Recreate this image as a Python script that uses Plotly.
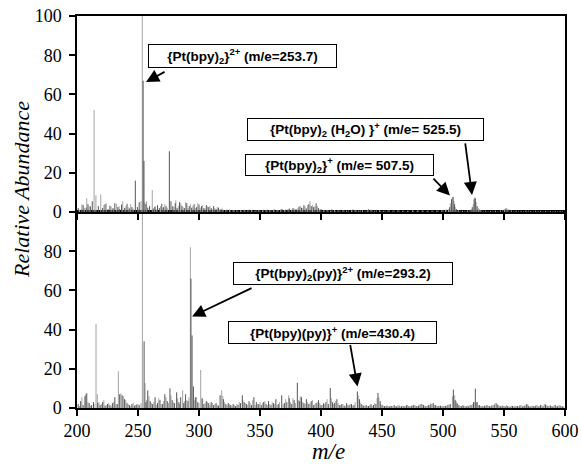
import plotly.graph_objects as go

# ---------------- data: (m/e, relative abundance) ----------------
top_dark = [
    (201, 2.0), (203.5, 1.2), (205, 3.5), (207.5, 2.2), (209, 4.0), (211, 2.8), (212.5, 5.5),
    (217.5, 3.0), (221, 2.0), (223, 4.0), (225.5, 1.5), (227, 3.2), (229.5, 2.0), (231, 4.5),
    (233.5, 2.5), (235, 1.5), (236.5, 3.8), (239, 2.0), (241, 4.2), (243, 1.8), (245, 2.5),
    (247.8, 16), (249.5, 2.5), (251, 5.0), (254.2, 67), (254.9, 26), (256.5, 4.0), (258, 2.2),
    (259.5, 3.0), (262.5, 1.8), (264, 2.8), (266, 3.5), (267.5, 2.0), (269.5, 4.2), (271, 2.5),
    (273, 3.0), (275.7, 31), (277, 5.5), (278.5, 3.0), (280.5, 4.5), (282, 2.0), (284, 5.0),
    (286, 3.2), (288, 2.0), (290, 4.5), (292, 3.0), (294, 2.2), (296, 4.0), (298, 2.5),
    (300, 3.8), (302, 3.0), (304, 2.0), (306, 3.5), (308, 2.5), (310, 2.0), (312, 3.0),
    (314, 1.5), (316, 2.2), (318, 1.5), (320, 1.0), (323, 1.2), (326, 0.9), (329, 1.0),
    (332, 0.8), (335, 1.0), (338, 0.8), (341, 1.1), (344, 0.8), (347, 1.0), (350, 0.9),
    (353, 1.1), (356, 1.2), (359, 1.0), (362, 1.3), (365, 1.0), (368, 1.6), (371, 1.2),
    (374, 1.8), (377, 2.0), (379.5, 1.5), (382, 2.8), (384, 2.2), (386, 3.5), (388, 1.8),
    (390, 4.0), (392, 3.0), (394, 2.5), (396, 4.5), (398, 2.0), (400, 1.5), (403, 1.0),
    (406, 0.8), (409, 1.3), (412, 0.7), (415.5, 1.1), (419, 0.8), (422.5, 1.0), (426, 1.3),
    (429, 0.8), (432.5, 1.0), (436, 0.7), (439, 1.4), (442, 0.8), (445.5, 1.1), (449, 0.7),
    (452.5, 0.8), (456, 1.0), (460, 0.7), (464, 0.9), (468, 0.6), (472, 0.8), (476, 0.7),
    (480, 0.9), (484, 0.6), (488, 0.8), (492, 0.7), (496, 0.9), (500, 1.0), (503, 1.2),
    (505.5, 2.5), (507, 6.5), (508.3, 7.8), (509.5, 4.0), (511, 1.5), (514, 0.8), (518, 0.7),
    (521.5, 1.0), (524, 2.5), (525.5, 6.5), (526.5, 7.0), (528, 3.0), (530, 1.2), (533, 0.8),
    (537, 0.6), (541, 0.8), (545, 0.6), (549, 1.0), (551.6, 1.9), (554, 1.2), (558, 0.6),
    (562, 0.8), (566, 0.6), (570, 0.9), (574, 0.6), (578, 0.7), (582, 0.6), (586, 0.7),
    (590, 0.5), (594, 0.6), (598, 0.5),
]
top_light = [
    (202, 1.2), (204, 3.8), (206, 2.2), (208, 7.0), (210, 3.0), (214, 52), (215.5, 8.5),
    (219.5, 9.0), (222, 3.5), (224, 4.5), (228, 2.8), (230, 1.5), (232.5, 4.2), (234.5, 3.0),
    (237.5, 5.5), (240, 3.0), (242, 2.5), (244, 4.0), (246, 1.8), (250, 1.5), (252.5, 5.5),
    (253.5, 100), (255.5, 5.0), (257, 5.5), (261.7, 11.2), (263.5, 2.5), (265, 1.5),
    (268.5, 3.0), (270.5, 2.0), (272, 4.0), (274, 2.2), (279.5, 2.5), (281, 6.0), (283, 3.0),
    (285, 4.5), (287, 2.5), (289, 5.0), (291, 2.0), (293, 4.0), (295, 3.2), (297, 2.0),
    (299, 4.5), (301, 2.0), (303, 3.5), (305, 1.8), (307, 2.8), (309, 3.2), (311, 1.5),
    (313, 2.0), (315, 2.5), (317, 1.2), (319, 1.8), (322, 1.0), (325, 1.4), (328, 1.0),
    (331, 0.8), (334, 0.9), (337, 1.2), (340, 0.8), (343, 1.0), (346, 0.7), (349, 1.0),
    (352, 0.8), (355, 1.0), (358, 0.9), (361, 1.2), (364, 1.0), (367, 1.4), (370, 1.0),
    (373, 1.5), (376, 1.2), (378, 1.8), (381, 2.0), (383, 3.0), (385, 2.0), (387, 2.8),
    (389, 3.5), (391, 5.5), (393, 3.5), (395, 3.0), (397, 3.0), (399, 1.2), (402, 0.8),
    (405, 1.0), (408, 0.7), (411, 1.0), (414, 0.8), (418, 1.0), (421, 0.7), (425, 0.9),
    (428, 1.1), (431, 0.8), (434, 0.9), (438, 0.8), (441, 1.2), (444, 0.7), (448, 0.9),
    (451, 0.6), (455, 0.8), (459, 0.7), (463, 0.8), (467, 0.7), (471, 0.6), (475, 0.8),
    (479, 0.7), (483, 0.8), (487, 0.6), (491, 0.7), (495, 0.8), (499, 0.9), (502, 1.0),
    (504.5, 1.5), (506, 4.5), (507.6, 7.5), (509, 5.5), (510, 2.5), (512.5, 1.0), (516, 0.7),
    (520, 0.8), (523, 1.5), (524.8, 4.0), (526, 7.5), (527.2, 5.0), (529, 2.0), (531, 0.9),
    (535, 0.7), (539, 0.6), (543, 0.7), (547, 0.8), (550.5, 1.5), (552.5, 1.8), (556, 0.8),
    (560, 0.7), (564, 0.6), (568, 0.8), (572, 0.6), (576, 0.7), (580, 0.6), (584, 0.6),
    (588, 0.5), (592, 0.6), (596, 0.5),
]
bottom_dark = [
    (201, 2.0), (203, 3.5), (205, 1.5), (206.5, 6.0), (208, 7.5), (210, 2.5), (212, 1.5),
    (213.5, 3.0), (217, 2.5), (219, 1.5), (221, 3.0), (223, 1.2), (225, 2.0), (227, 1.5),
    (229, 2.5), (231, 5.5), (233, 2.0), (235, 7.0), (237, 6.5), (239, 4.5), (241, 2.5),
    (243, 1.5), (245, 2.0), (247, 1.2), (249, 1.8), (251, 1.5), (255, 34), (256.5, 3.0),
    (258, 9.0), (260, 3.5), (262, 2.0), (264, 5.5), (266, 2.5), (268, 4.0), (270, 2.0),
    (272, 7.0), (274, 3.5), (276.2, 10), (278, 4.0), (280, 2.5), (281.7, 8.0), (283.5, 3.0),
    (285, 5.5), (287.5, 2.5), (289, 7.0), (291, 3.5), (293.4, 66), (294.3, 37), (295.4, 11),
    (297, 5.5), (299, 3.0), (302.5, 5.0), (304, 2.0), (306, 3.5), (308, 2.5), (310, 3.0),
    (312, 1.5), (314, 2.5), (316, 1.2), (317.3, 6.5), (320, 4.5), (322, 2.0), (324, 2.5),
    (326, 1.5), (328, 2.0), (330, 1.0), (332, 1.5), (334, 2.5), (335.5, 6.5), (337, 3.0),
    (339, 2.0), (341, 3.5), (343, 1.5), (345, 5.5), (347, 3.0), (349, 2.0), (351, 1.5),
    (353, 3.0), (355, 2.0), (357, 3.5), (359, 1.5), (361, 2.5), (363, 4.5), (365, 2.0),
    (367.8, 6.5), (370, 2.5), (372, 3.0), (374, 5.0), (376, 2.0), (378, 4.0), (380.6, 12.9),
    (382.5, 3.5), (384, 5.5), (386, 2.5), (388, 4.5), (390, 2.0), (392, 3.5), (394, 1.5),
    (396, 2.5), (398, 4.0), (400, 1.5), (402, 2.5), (404, 3.0), (406, 2.0), (407.6, 10.2),
    (409.5, 3.0), (411, 2.5), (413, 4.5), (415, 1.5), (417, 2.0), (419, 1.2), (421, 2.5),
    (423, 1.5), (425, 2.0), (427, 1.5), (429.8, 8.4), (431.5, 4.5), (433, 2.0), (435, 1.2),
    (437, 1.5), (439, 1.0), (441, 2.0), (443, 1.5), (445, 2.0), (446.7, 7.7), (448.5, 3.5),
    (450, 1.5), (452, 1.0), (454, 1.2), (456, 0.8), (458, 1.0), (460, 1.5), (462, 0.8),
    (464, 1.2), (466, 0.9), (468, 1.0), (470, 1.4), (472, 0.9), (474, 1.2), (476, 1.6),
    (478, 1.0), (480, 1.2), (482, 2.0), (484, 1.5), (486, 1.0), (488, 1.5), (490, 2.2),
    (492, 2.5), (494, 1.5), (496, 1.0), (498, 1.2), (500, 0.9), (502, 1.0), (504, 1.5),
    (506, 2.0), (508.5, 9.4), (510, 4.0), (511.5, 2.5), (513, 1.5), (515, 1.0), (517, 1.2),
    (519, 1.0), (521, 0.8), (523, 1.5), (525, 3.0), (526.5, 9.9), (528, 3.0), (530, 1.5),
    (532, 1.0), (534, 1.2), (536, 1.5), (538, 1.0), (540, 1.3), (542, 1.8), (543.5, 2.5),
    (545, 1.5), (547, 1.0), (549, 1.2), (551, 0.8), (553, 1.0), (555, 0.7), (557, 1.0),
    (559, 0.8), (561, 1.0), (563, 1.3), (565, 0.8), (567, 1.2), (568.6, 2.0), (570, 1.0),
    (572, 0.8), (574, 1.0), (576, 1.2), (578, 0.8), (580, 1.5), (582, 0.9), (584, 1.8),
    (586, 1.0), (588, 1.3), (590, 0.8), (592, 1.6), (594, 1.0), (596, 1.2), (598, 0.8),
]
bottom_light = [
    (202, 1.0), (204, 5.5), (207, 7.0), (209, 3.0), (211, 1.2), (214, 2.0), (215.6, 43),
    (216.7, 7.0), (218, 3.0), (220, 2.0), (222, 4.0), (224, 1.5), (226, 2.5), (228, 1.0),
    (230, 3.0), (232, 2.0), (233.9, 18.7), (236, 7.5), (238, 6.0), (240, 4.0), (242, 2.0),
    (244, 1.0), (246, 2.5), (248, 1.5), (250, 2.0), (252.5, 2.5), (253.6, 100), (255.8, 12.7),
    (257, 4.0), (259, 6.0), (261, 2.5), (263, 3.0), (265, 1.5), (267, 5.0), (269, 2.0),
    (271, 3.5), (273, 5.5), (275, 2.5), (277, 6.5), (279, 3.0), (282.5, 5.0), (284, 2.0),
    (286.6, 9.0), (288, 3.5), (290, 4.0), (291.8, 5.5), (292.9, 82), (296, 4.0), (298, 5.5),
    (300, 2.5), (301.4, 19.4), (303, 4.5), (305, 2.5), (307, 3.0), (309, 1.5), (311, 2.5),
    (313, 2.0), (315, 1.5), (318.6, 9.0), (319.5, 6.0), (321, 3.0), (323, 1.5), (325, 2.0),
    (327, 1.0), (329, 1.5), (331, 2.0), (333, 3.0), (336, 4.0), (338, 2.5), (340, 1.5),
    (342, 2.5), (344, 4.0), (346, 1.5), (348, 2.0), (350, 3.0), (352, 2.5), (354, 3.5),
    (356, 1.5), (358, 2.0), (360, 3.0), (362, 2.0), (364, 1.5), (366, 3.0), (369, 2.0),
    (371, 4.5), (373.5, 6.5), (375, 3.0), (377, 5.0), (379, 2.5), (381.5, 4.0), (383, 6.0),
    (385, 3.0), (387, 2.0), (389, 3.0), (391, 2.5), (393, 4.0), (395, 2.0), (397, 3.0),
    (399, 2.5), (401, 1.5), (403, 2.0), (405, 4.5), (408.5, 5.0), (410, 2.0), (412, 3.5),
    (414, 2.5), (416, 1.5), (418, 2.0), (420, 1.0), (422, 1.5), (424, 2.0), (426, 1.2),
    (428, 3.0), (430.5, 6.5), (432, 3.0), (434, 1.5), (436, 1.2), (438, 1.0), (440, 1.5),
    (442, 1.0), (444, 2.5), (446, 5.0), (447.5, 5.5), (449, 2.0), (451, 1.2), (453, 0.8),
    (455, 1.0), (457, 1.2), (459, 0.8), (461, 1.0), (463, 1.4), (465, 0.8), (467, 1.2),
    (469, 1.0), (471, 1.5), (473, 1.0), (475, 1.2), (477, 1.4), (479, 1.0), (481, 1.8),
    (483, 2.0), (485, 1.2), (487, 1.0), (489, 1.4), (491, 2.0), (493, 1.5), (495, 1.0),
    (497, 1.2), (499, 1.0), (501, 0.8), (503, 1.2), (505, 1.8), (507.7, 6.0), (509.6, 6.5),
    (510.8, 3.5), (512, 2.0), (514, 1.0), (516, 1.5), (518, 0.8), (520, 1.2), (522, 1.5),
    (524, 2.0), (525.5, 3.0), (527.5, 3.0), (529, 1.5), (531, 1.0), (533, 0.8), (535, 1.0),
    (537, 1.2), (539, 0.8), (541, 1.5), (544.5, 2.0), (546, 1.2), (548, 0.8), (550, 1.0),
    (552, 1.5), (554, 0.8), (556, 1.2), (558, 0.9), (560, 1.0), (562, 0.7), (564, 1.5),
    (566, 1.0), (568, 1.4), (569.5, 1.8), (571, 0.8), (573, 1.2), (575, 0.9), (577, 1.5),
    (579, 1.0), (581, 1.2), (583, 2.0), (585, 1.4), (587, 0.9), (589, 1.0), (591, 1.3),
    (593, 0.8), (595, 1.4), (597, 1.0), (599, 0.8),
]
x_ticks = [200, 250, 300, 350, 400, 450, 500, 550, 600]
top_y_ticks = [0, 20, 40, 60, 80, 100]
bottom_y_ticks = [0, 20, 40, 60, 80]

DARK = "#555555"
LIGHT = "#a3a3a3"


def sticks(peaks):
    xs, ys = [], []
    for m, v in peaks:
        xs += [m, m, None]
        ys += [0, v, None]
    return xs, ys


fig = go.Figure()
for peaks, color, xa, ya in [
    (top_light, LIGHT, "x2", "y2"), (top_dark, DARK, "x2", "y2"),
    (bottom_light, LIGHT, "x", "y"), (bottom_dark, DARK, "x", "y"),
]:
    xs, ys = sticks(peaks)
    fig.add_trace(go.Scatter(x=xs, y=ys, mode="lines", xaxis=xa, yaxis=ya,
                             line=dict(color=color, width=1), showlegend=False,
                             hoverinfo="skip"))

serif = "Liberation Serif, Times New Roman, serif"
sans = "Liberation Sans, Arial, sans-serif"
axis_common = dict(showline=True, linecolor="black", linewidth=1.5, mirror=True,
                   ticks="outside", ticklen=6, tickwidth=1.5, tickcolor="black",
                   showgrid=False, zeroline=False, automargin=False,
                   tickfont=dict(family=serif, size=18, color="black"))

fig.update_layout(
    width=581, height=464,
    margin=dict(l=77, r=16, t=16, b=56, autoexpand=False),
    plot_bgcolor="white", paper_bgcolor="white",
    xaxis=dict(domain=[0, 1], range=[200, 600], anchor="y", tickvals=x_ticks, **axis_common),
    xaxis2=dict(domain=[0, 1], range=[200, 600], anchor="y2", matches="x",
                tickvals=x_ticks, showticklabels=False, **axis_common),
    yaxis=dict(domain=[0, 0.5], range=[0, 100], anchor="x", tickvals=bottom_y_ticks,
               ticklabelstandoff=4, **axis_common),
    yaxis2=dict(domain=[0.5, 1], range=[0, 100], anchor="x2", tickvals=top_y_ticks,
                ticklabelstandoff=4, **axis_common),
)


def px_x(p):
    return (p - 77) / 488


def px_y(p):
    return 1 - (p - 16) / 392


boxes = [
    ("<b>{Pt(bpy)<sub>2</sub>}<sup>2+</sup> (m/e=253.7)</b>", 242.5, 56, 189, 24),
    ("<b>{Pt(bpy)<sub>2</sub> (H<sub>2</sub>O) }<sup>+</sup> (m/e= 525.5)</b>", 365.5, 129.5, 237, 23),
    ("<b>{Pt(bpy)<sub>2</sub>}<sup>+</sup> (m/e= 507.5)</b>", 339.5, 165, 189, 22),
    ("<b>{Pt(bpy)<sub>2</sub>(py)}<sup>2+</sup> (m/e=293.2)</b>", 343, 273.5, 220, 23),
    ("<b>{Pt(bpy)(py)}<sup>+</sup> (m/e=430.4)</b>", 332.5, 332.5, 209, 23),
]
for text, cx, cy, w, h in boxes:
    fig.add_annotation(text=text, xref="paper", yref="paper", x=px_x(cx), y=px_y(cy),
                       xanchor="center", yanchor="middle", showarrow=False,
                       width=w - 6, height=h - 6, borderpad=2,
                       bordercolor="black", borderwidth=1, bgcolor="white",
                       font=dict(family=sans, size=13.5, color="black"))

# arrows: tip in data coordinates, tail as pixel offset
arrows = [
    ("x2", "y2", 256.6, 66.3, 20, -11),
    ("x2", "y2", 523.8, 8.7, -7, -53),
    ("x2", "y2", 505.7, 8.4, -18, -18.5),
    ("x", "y", 294.3, 46.7, 61, -29),
    ("x", "y", 429.9, 11.0, -7.5, -43),
]
for xr, yr, x, y, ax, ay in arrows:
    fig.add_annotation(text="", xref=xr, yref=yr, x=x, y=y, ax=ax, ay=ay,
                       showarrow=True, arrowhead=2, arrowsize=1.45, arrowwidth=1.8,
                       arrowcolor="black")

fig.add_annotation(text="<i>Relative Abundance</i>", xref="paper", yref="paper",
                   x=px_x(21), y=px_y(190), textangle=-90, showarrow=False,
                   xanchor="center", yanchor="middle",
                   font=dict(family=serif, size=22, color="black"))
fig.add_annotation(text="<i>m/e</i>", xref="paper", yref="paper",
                   x=px_x(328), y=px_y(451), showarrow=False,
                   xanchor="center", yanchor="middle",
                   font=dict(family=serif, size=23, color="black"))

fig.write_html("out.html", config={"displayModeBar": False},
               post_script="document.body.style.margin='0';")
